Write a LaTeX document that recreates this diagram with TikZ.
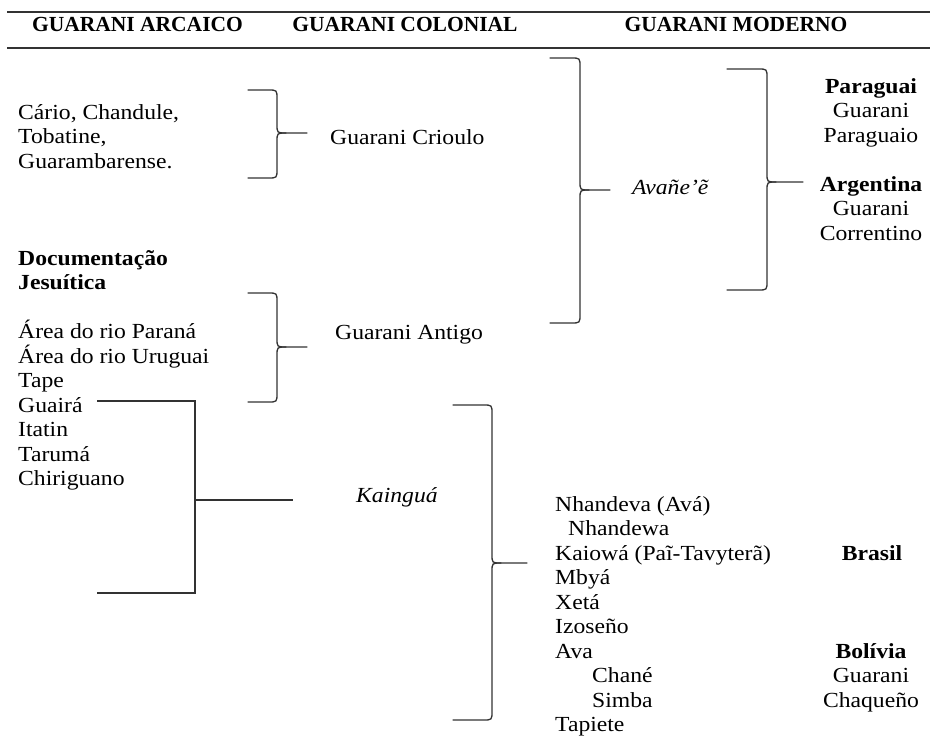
\documentclass[tikz,border=0pt]{standalone}
\usepackage{fontspec}
\setmainfont{Liberation Serif}[FakeStretch=1.1]
\newfontfamily\headfont{Liberation Serif}
\usetikzlibrary{calc, positioning}
\definecolor{gualine}{RGB}{50,50,50}

\begin{document}
\begin{tikzpicture}[x=1pt, y=-1pt]
        \useasboundingbox (0,0) rectangle (930,736);

        \tikzstyle{txt} = [inner sep=0pt, anchor=base west, font=\fontsize{21.5}{24.5}\selectfont];
        \tikzstyle{txtc} = [txt, anchor=base];
        \tikzstyle{head} = [inner sep=0pt, anchor=base, font=\headfont\bfseries\fontsize{21.5}{24.5}\selectfont];
        \tikzstyle{rule} = [draw=gualine, line width=1.5pt];
        \tikzstyle{b} = [draw=gualine, line width=1.3pt, line cap=round];

        % header
        \draw [rule] (7,12) -- (930,12);
        \draw [rule] (7,48) -- (930,48);
        \node [head] (harcaico)  at (137.5,31.5) {GUARANI ARCAICO};
        \node [head] (hcolonial) at (405,31.5)   {GUARANI COLONIAL};
        \node [head] (hmoderno)  at (736,31.5)   {GUARANI MODERNO};

        % guarani arcaico
        \foreach \t [count=\i from 0] in {{Cário, Chandule,}, {Tobatine,}, {Guarambarense.}}{
            \node [txt] (cario\i) at (18, {119+24.5*\i}) {\t};
        }
        \foreach \t [count=\i from 0] in {Documentação, Jesuítica}{
            \node [txt, font=\bfseries\fontsize{21.5}{24.5}\selectfont] (doc\i) at (18, {265+24.5*\i}) {\t};
        }
        \foreach \t [count=\i from 0] in {Área do rio Paraná, Área do rio Uruguai, Tape, Guairá, Itatin, Tarumá, Chiriguano}{
            \node [txt] (area\i) at (18, {338.5+24.5*\i}) {\t};
        }

        % guarani colonial
        \node [txt] (crioulo) at (330,144) {Guarani Crioulo};
        \node [txt] (antigo)  at (335,339) {Guarani Antigo};
        \node [txt, font=\itshape\fontsize{21.5}{24.5}\selectfont] (kaingua) at (356,502) {Kainguá};

        % guarani moderno
        \node [txt, font=\itshape\fontsize{21.5}{24.5}\selectfont] (avane) at (632,194) {Avañe’ẽ};

        \foreach \t/\w [count=\i from 0] in {Paraguai/\bfseries, Guarani/, Paraguaio/, /, Argentina/\bfseries, Guarani/, Correntino/}{
            \node [txtc, font=\w\fontsize{21.5}{24.5}\selectfont] (pa\i) at (871, {93+24.5*\i}) {\t};
        }

        \foreach \t/\dx [count=\i from 0] in {{Nhandeva (Avá)}/0, Nhandewa/13, {Kaiowá (Paĩ-Tavyterã)}/0, Mbyá/0, Xetá/0,
                                             Izoseño/0, Ava/0, Chané/37, Simba/37, Tapiete/0}{
            \node [txt] (br\i) at ({555+\dx}, {511+24.5*\i}) {\t};
        }
        \node [txtc, font=\bfseries\fontsize{21.5}{24.5}\selectfont] (brasil) at (872,560) {Brasil};
        \foreach \t/\w [count=\i from 0] in {Bolívia/\bfseries, Guarani/, Chaqueño/}{
            \node [txtc, font=\w\fontsize{21.5}{24.5}\selectfont] (bo\i) at (871, {658+24.5*\i}) {\t};
        }

        % braces: name / hook x / stem x / tip x / top y / tip y / bottom y
        \foreach \nb/\xa/\xb/\xc/\ya/\ym/\yb in {crioulo/248/277/307/90/133/178,
                                                antigo/248/277/307/293/347/402,
                                                avane/550/580/610/58/190/323,
                                                moderno/727/767/803/69/182/290,
                                                kaingua/453/492/527/405/563/720}{
            \coordinate (\nb top) at (\xa, \ya);
            \coordinate (\nb bot) at (\xa, \yb);
            \coordinate (\nb tip) at (\xc, \ym);
            \draw [b] (\nb top) -- ({\xb-9}, \ya) .. controls (\xb, \ya) .. (\xb, {\ya+9})
                -- (\xb, {\ym-9}) .. controls (\xb, \ym) .. ({\xb+9}, \ym) -- (\nb tip);
            \draw [b] (\nb bot) -- ({\xb-9}, \yb) .. controls (\xb, \yb) .. (\xb, {\yb-9})
                -- (\xb, {\ym+9}) .. controls (\xb, \ym) .. ({\xb+9}, \ym);
        }

        % kaingua connector
        \coordinate (kt) at (97,401);
        \coordinate (kb) at (97,593);
        \coordinate (kc) at (195,500);
        \coordinate (ks) at (293,500);
        \draw [rule] (kt) -- (kt -| kc) -- (kb -| kc) -- (kb);
        \draw [rule] (kc) -- (ks);
    \end{tikzpicture}
\end{document}
